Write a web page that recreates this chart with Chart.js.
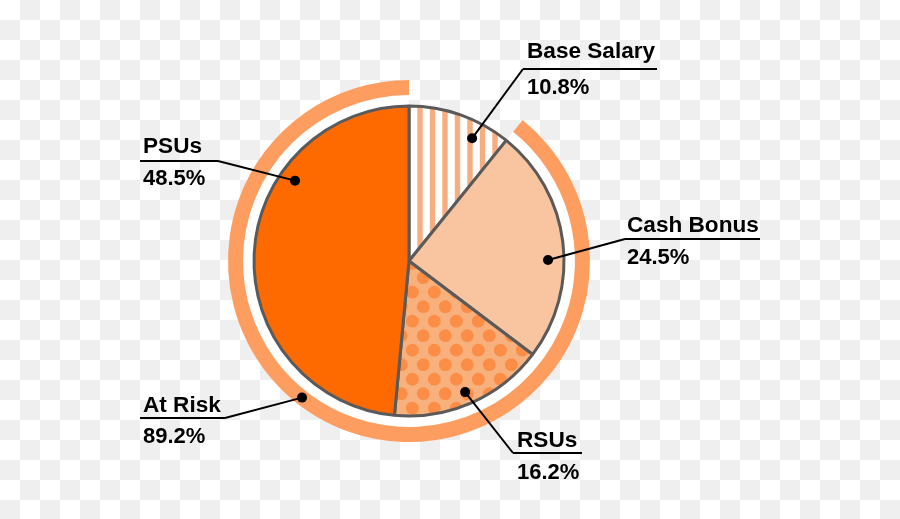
<!DOCTYPE html>
<html><head><meta charset="utf-8">
<script src="https://cdn.jsdelivr.net/npm/chart.js@4/dist/chart.umd.min.js"></script>
<style>
html,body{margin:0;padding:0;}
body{width:900px;height:519px;overflow:hidden;background:#fff repeating-conic-gradient(#efefef 0 25%, #ffffff 0 50%) 0 0/40px 40px;}
#wrap{position:absolute;left:0;top:0;width:900px;height:519px;}
canvas{display:block;}
</style></head><body>
<div id="wrap"><canvas id="c" width="900" height="519"></canvas></div>
<script>
// ---- data ----
const categories = ['Base Salary', 'Cash Bonus', 'RSUs', 'PSUs'];
const payValues = [10.8, 24.5, 16.2, 48.5];
const ringCategories = ['Fixed', 'At Risk'];
const ringValues = [10.8, 89.2];
const calloutNames = ['Base Salary', 'Cash Bonus', 'RSUs', 'PSUs', 'At Risk'];

// ---- styles / layout ----
const canvas = document.getElementById('c');
const ctx0 = canvas.getContext('2d');

function stripePattern() {
  const c = document.createElement('canvas'); c.width = 25; c.height = 4;
  const g = c.getContext('2d');
  g.fillStyle = '#ffffff'; g.fillRect(0, 0, 25, 4);
  g.fillStyle = '#f6ad80';
  g.fillRect(4.8, 0, 5.4, 4); g.fillRect(17.3, 0, 5.4, 4);
  return ctx0.createPattern(c, 'repeat');
}
function dotPattern() {
  const w = 22, h = 29;
  const c = document.createElement('canvas'); c.width = w; c.height = h;
  const g = c.getContext('2d');
  g.fillStyle = '#f8b07d'; g.fillRect(0, 0, w, h);
  g.fillStyle = '#fb8d46';
  const pts = [[5.3, 16.7], [16.3, 2.2]];
  for (const [px, py] of pts) {
    for (const ox of [-w, 0, w]) for (const oy of [-h, 0, h]) {
      g.beginPath(); g.arc(px + ox, py + oy, 6.4, 0, Math.PI * 2); g.fill();
    }
  }
  return ctx0.createPattern(c, 'repeat');
}

const pieColors = [stripePattern(), '#f8c5a0', dotPattern(), '#ff6a00'];
const ringColors = ['rgba(0,0,0,0)', '#fd9e60'];
const gapColors = ['rgba(0,0,0,0)', '#ffffff'];

// callout layout: which dataset/element, anchor (fraction of angle span, radius fraction), text & line positions
const callouts = [
  {ds: 2, idx: 0, af: 0.70, rf: 0.89, nx: 527, ny: 58, py: 94, ux1: 523, ux2: 657, uy: 69, jx: 523},
  {ds: 2, idx: 1, af: 0.575, rf: 0.897, nx: 627, ny: 232, py: 264, ux1: 625, ux2: 760, uy: 239, jx: 625},
  {ds: 2, idx: 2, af: 0.51, rf: 0.92, nx: 517, ny: 447, py: 479, ux1: 513, ux2: 582, uy: 453, jx: 513},
  {ds: 2, idx: 3, af: 0.686, rf: 0.90, nx: 143, ny: 153, py: 185, ux1: 140, ux2: 218, uy: 161, jx: 218},
  {ds: 0, idx: 1, af: 0.558, rf: null, nx: 143, ny: 412, py: 443, ux1: 140, ux2: 225, uy: 418, jx: 225}
];

const calloutPlugin = {
  id: 'callouts',
  afterDraw(chart) {
    const ctx = chart.ctx;
    ctx.save();
    callouts.forEach((co, i) => {
      const meta = chart.getDatasetMeta(co.ds);
      const el = meta.data[co.idx];
      const a = el.startAngle + (el.endAngle - el.startAngle) * co.af;
      const r = co.rf === null ? (el.innerRadius + el.outerRadius) / 2 : el.outerRadius * co.rf;
      const dx = el.x + Math.cos(a) * r, dy = el.y + Math.sin(a) * r;
      const value = (co.ds === 0 ? ringValues : payValues)[co.idx];
      // lines
      ctx.strokeStyle = '#000'; ctx.lineWidth = 2;
      ctx.beginPath(); ctx.moveTo(co.ux1, co.uy); ctx.lineTo(co.ux2, co.uy); ctx.stroke();
      ctx.beginPath(); ctx.moveTo(co.jx, co.uy); ctx.lineTo(dx, dy); ctx.stroke();
      ctx.fillStyle = '#000';
      ctx.beginPath(); ctx.arc(dx, dy, 5, 0, Math.PI * 2); ctx.fill();
      // text
      ctx.textAlign = 'left'; ctx.textBaseline = 'alphabetic';
      ctx.font = 'bold 22.6px "Liberation Sans", Arial, sans-serif';
      ctx.fillText(calloutNames[i], co.nx, co.ny);
      ctx.font = 'bold 22px "Liberation Sans", Arial, sans-serif';
      ctx.fillText(value.toFixed(1) + '%', co.nx, co.py);
    });
    ctx.restore();
  }
};

new Chart(canvas, {
  type: 'pie',
  data: {
    labels: categories,
    datasets: [
      {label: 'Risk', data: ringValues, backgroundColor: ringColors, borderWidth: 0, hoverBorderWidth: 0, weight: 15, order: 1},
      {label: 'gap', data: ringValues, backgroundColor: gapColors, borderWidth: 0, hoverBorderWidth: 0, weight: 11, order: 2},
      {label: 'Pay mix', data: payValues, backgroundColor: pieColors, borderColor: '#5a5a5a', borderWidth: 3, hoverBorderWidth: 3, weight: 155, order: 0}
    ]
  },
  options: {
    responsive: false,
    devicePixelRatio: 1,
    animation: false,
    events: [],
    layout: {padding: {left: 228, right: 310, top: 80, bottom: 77}},
    plugins: {legend: {display: false}, tooltip: {enabled: false}}
  },
  plugins: [calloutPlugin]
});
</script>
</body></html>
